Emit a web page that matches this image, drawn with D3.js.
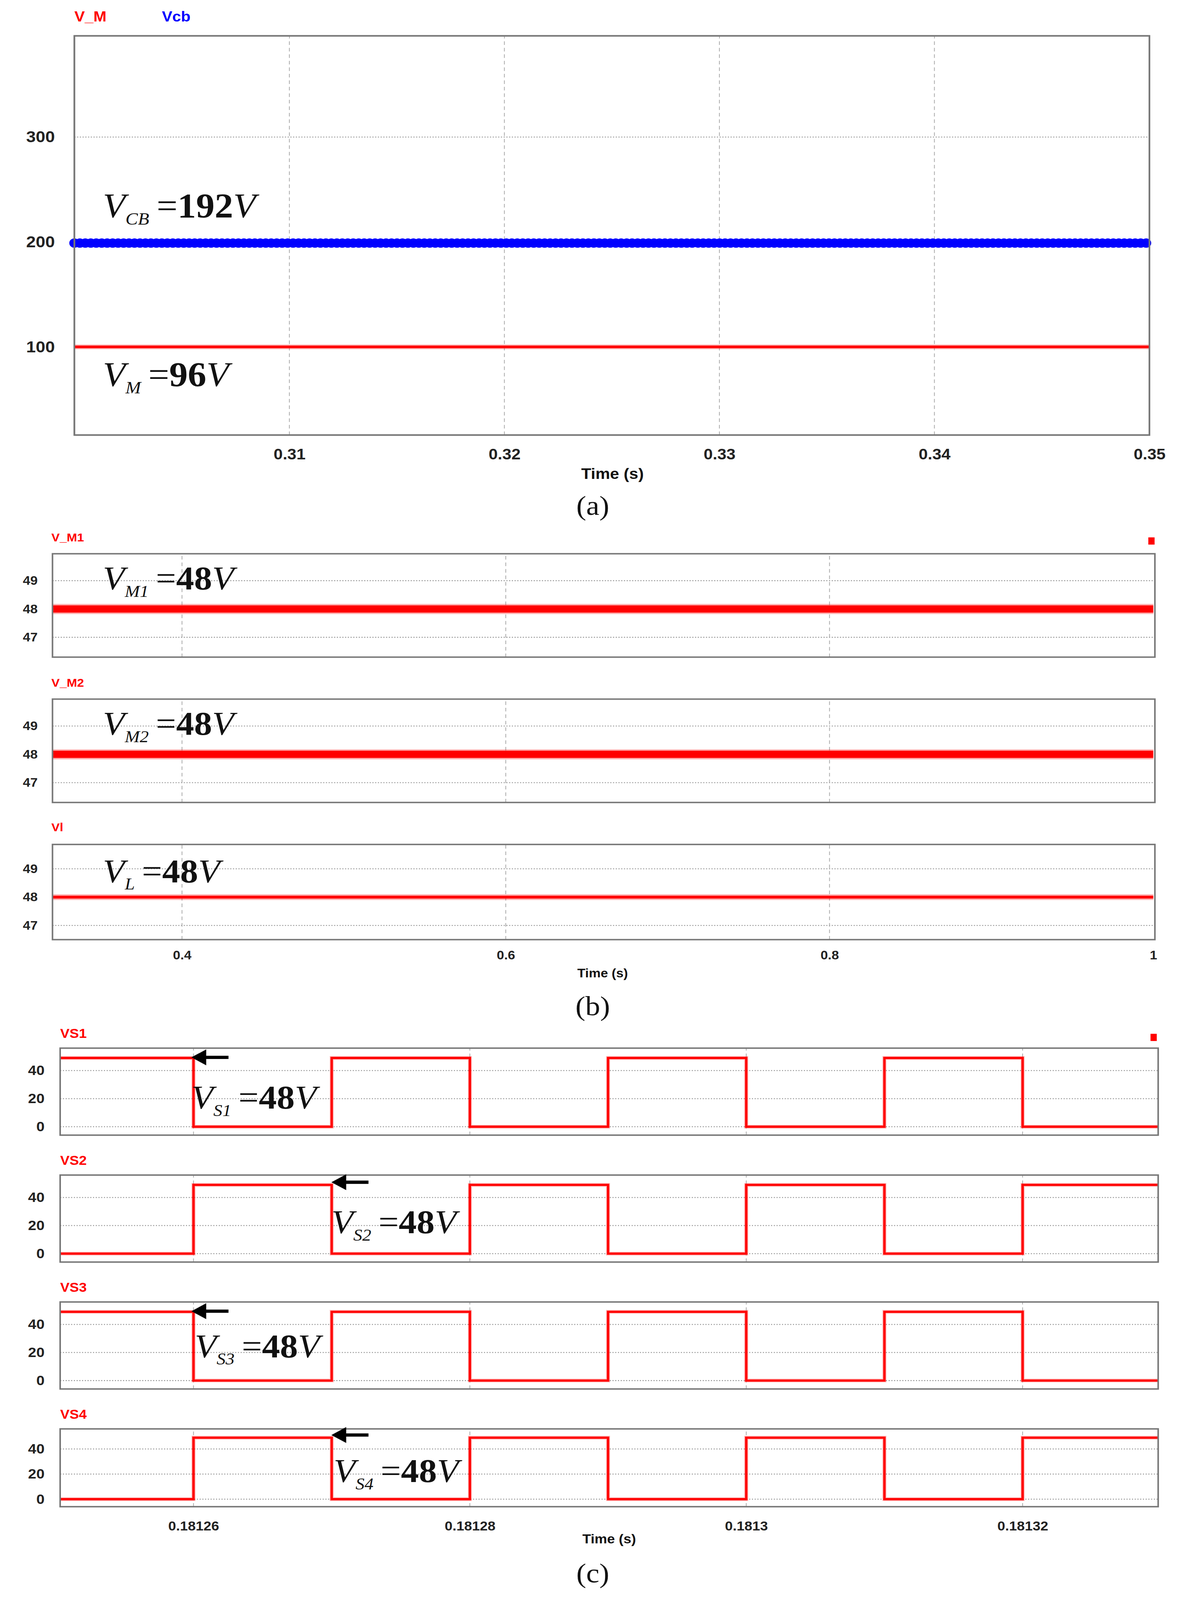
<!DOCTYPE html>
<html><head><meta charset="utf-8">
<script src="https://cdn.jsdelivr.net/npm/d3@7"></script>
<style>html,body{margin:0;padding:0;background:#fff;overflow:hidden}svg{display:block}</style></head>
<body><svg id="c" viewBox="0 0 3039 4430" preserveAspectRatio="none" style="width:100vw;height:100vh"></svg>
<script>
// ---------- data ----------
const aTicks = [0.31, 0.32, 0.33, 0.34, 0.35];
const aYTicks = [100, 200, 300];
const vcbSeries = [[0.3, 199], [0.35, 199]];
const vmSeries = [[0.3, 100], [0.35, 100]];
const bTicks = [0.4, 0.6, 0.8, 1];
const bYTicks = [47, 48, 49];
const vm1Series = [[0.32, 48], [1.0, 48]];
const vm2Series = [[0.32, 48], [1.0, 48]];
const vlSeries = [[0.32, 48], [1.0, 48]];
const cTicks = [0.18126, 0.18128, 0.1813, 0.18132];
const cYTicks = [0, 20, 40];
const switchTimes = [0.18125035, 0.18126, 0.18127, 0.18128, 0.18129, 0.1813, 0.18131, 0.18132, 0.18132981];
const vs1Levels = [49, 0, 49, 0, 49, 0, 49, 0];
const vs2Levels = [0, 49, 0, 49, 0, 49, 0, 49];
const vs3Levels = [49, 0, 49, 0, 49, 0, 49, 0];
const vs4Levels = [0, 49, 0, 49, 0, 49, 0, 49];

const SX = 2.8, SY = 2.834;
const svg = d3.select('#c');
const RED = '#ff0000', BLUE = '#0000ff';
const sans = 'Arial, "Liberation Sans", sans-serif';
const serif = '"Liberation Serif", "Times New Roman", serif';

function stepData(levels) {
  const pts = [];
  levels.forEach((v, i) => { pts.push([switchTimes[i], v]); pts.push([switchTimes[i + 1], v]); });
  return pts;
}

function panel(o) {
  const x = d3.scaleLinear().domain(o.xd).range([o.x0 * SX, o.x1 * SX]);
  const y = d3.scaleLinear().domain(o.yd).range([o.y1 * SY, o.y0 * SY]);
  const g = svg.append('g');
  g.selectAll('.hg').data(o.yTicks).join('line')
    .attr('x1', x.range()[0]).attr('x2', x.range()[1]).attr('y1', d => y(d)).attr('y2', d => y(d))
    .attr('stroke', '#999').attr('stroke-width', 2.5).attr('stroke-dasharray', '3,4');
  g.selectAll('.vg').data(o.xTicks.filter(t => x(t) < x.range()[1] - 10)).join('line')
    .attr('y1', y.range()[0]).attr('y2', y.range()[1]).attr('x1', d => x(d)).attr('x2', d => x(d))
    .attr('stroke', '#aaa').attr('stroke-width', 2).attr('stroke-dasharray', '10,8');
  const ya = g.append('g').attr('transform', `translate(${x.range()[0]},0)`)
    .call(d3.axisLeft(y).tickValues(o.yTicks).tickSize(0).tickPadding(o.ypad || 30).tickFormat(d3.format('d')));
  ya.select('.domain').remove();
  ya.selectAll('text').attr('font-family', sans).attr('font-weight', 'bold')
    .attr('font-size', o.yfs || 40).attr('fill', '#222');
  const line = d3.line().x(d => x(d[0])).y(d => y(d[1]));
  o.series.forEach(s => {
    if (s.halo) g.append('path').attr('d', line(s.data)).attr('fill', 'none')
      .attr('stroke', s.color).attr('stroke-opacity', 0.3).attr('stroke-width', s.halo);
    g.append('path').attr('d', line(s.data)).attr('fill', 'none').attr('stroke', s.color)
      .attr('stroke-width', s.w).attr('stroke-dasharray', s.dash || null)
      .attr('stroke-linecap', s.cap || 'butt');
  });
  g.append('rect').attr('x', x.range()[0]).attr('y', y.range()[1])
    .attr('width', x.range()[1] - x.range()[0]).attr('height', y.range()[0] - y.range()[1])
    .attr('fill', 'none').attr('stroke', '#777').attr('stroke-width', 4);
  if (o.xAxis) {
    const xa = g.append('g').attr('transform', `translate(0,${y.range()[0]})`)
      .call(d3.axisBottom(x).tickValues(o.xTicks).tickSize(0).tickPadding(o.xpad).tickFormat(d => String(d)));
    xa.select('.domain').remove();
    xa.selectAll('text').attr('font-family', sans).attr('font-weight', 'bold')
      .attr('font-size', o.xfs).attr('fill', '#222');
  }
  return { x, y, g };
}

function label(txt, xr, yr, color, fs) {
  svg.append('text').attr('x', xr * SX).attr('y', yr * SY).text(txt)
    .attr('font-family', sans).attr('font-weight', 'bold').attr('font-size', fs).attr('fill', color);
}
function eq(xr, yr, sub, rest, fs) {
  const t = svg.append('text').attr('x', xr * SX).attr('y', yr * SY)
    .attr('font-family', serif).attr('font-size', fs).attr('fill', '#111');
  t.append('tspan').text('V').attr('font-style', 'italic');
  t.append('tspan').text(sub).attr('font-style', 'italic').attr('font-size', fs * 0.5).attr('dy', fs * 0.22);
  t.append('tspan').text('=').attr('dx', fs * 0.2).attr('dy', -fs * 0.22);
  t.append('tspan').text(rest.slice(1, -1)).attr('font-weight', 'bold');
  t.append('tspan').text('V').attr('font-style', 'italic');
}
function center(txt, xr, yr, fs, fam, weight) {
  svg.append('text').attr('x', xr * SX).attr('y', yr * SY).attr('text-anchor', 'middle').text(txt)
    .attr('font-family', fam).attr('font-size', fs).attr('font-weight', weight || 'normal').attr('fill', '#111');
}
function arrow(xr, yr) {
  const x0 = xr * SX, y0 = yr * SY;
  svg.append('line').attr('x1', x0 + 20).attr('x2', x0 + 95).attr('y1', y0).attr('y2', y0)
    .attr('stroke', '#000').attr('stroke-width', 9);
  svg.append('path').attr('d', `M${x0},${y0} L${x0 + 38},${y0 - 22} L${x0 + 38},${y0 + 22} Z`).attr('fill', '#000');
}
function square(xr, yr) {
  svg.append('rect').attr('x', xr * SX).attr('y', yr * SY).attr('width', 16).attr('height', 20).attr('fill', RED);
}

// ---------- (a) ----------
panel({ xd: [0.3, 0.35], yd: [16, 396.5], x0: 68, x1: 1051, y0: 35, y1: 425,
  xTicks: aTicks, yTicks: aYTicks, xAxis: true, xpad: 38, xfs: 42, yfs: 44, ypad: 50,
  series: [
    { data: vcbSeries, color: BLUE, w: 20 },
    { data: vcbSeries, color: BLUE, w: 26, dash: '0,14', cap: 'round' }
  ] });
panel({ xd: [0.3, 0.35], yd: [16, 396.5], x0: 68, x1: 1051, y0: 35, y1: 425,
  xTicks: [], yTicks: [], xAxis: false,
  series: [{ data: vmSeries, color: RED, w: 7, halo: 13 }] });
label('V_M', 68, 21, RED, 40);
label('Vcb', 148, 21, BLUE, 40);
eq(94, 212, 'CB', '=192V', 95);
eq(94, 377, 'M', '=96V', 95);
center('Time (s)', 560, 468, 42, sans, 'bold');
center('(a)', 542, 503, 76, serif);

// ---------- (b) ----------
const bDefs = [
  { y0: 541, y1: 642, s: vm1Series, w: 20, name: 'V_M1', ly: 529, eqy: 576, sub: 'M1' },
  { y0: 683, y1: 784, s: vm2Series, w: 20, name: 'V_M2', ly: 671, eqy: 718, sub: 'M2' },
  { y0: 825, y1: 918, s: vlSeries, w: 8, name: 'Vl', ly: 812, eqy: 862, sub: 'L' }
];
bDefs.forEach((d, i) => {
  const yd = i === 2 ? [46.5, 49.86] : [46.3, 49.95];
  panel({ xd: [0.32, 1.001], yd, x0: 48, x1: 1056, y0: d.y0, y1: d.y1,
    xTicks: bTicks, yTicks: bYTicks, xAxis: i === 2, xpad: 30, xfs: 34, yfs: 34, ypad: 38,
    series: [{ data: d.s, color: RED, w: d.w, halo: d.w + 8 }] });
  label(d.name, 47, d.ly, RED, 32);
  eq(94, d.eqy, d.sub, '=48V', 92);
});
square(1050, 525);
center('Time (s)', 551, 955, 34, sans, 'bold');
center('(b)', 542, 992, 76, serif);

// ---------- (c) ----------
const cDefs = [
  { y0: 1024, y1: 1109, lv: vs1Levels, name: 'VS1', arr: [175, 1033], eqx: 175, eqy: 1083, sub: 'S1' },
  { y0: 1148, y1: 1233, lv: vs2Levels, name: 'VS2', arr: [303, 1155], eqx: 303, eqy: 1205, sub: 'S2' },
  { y0: 1272, y1: 1357, lv: vs3Levels, name: 'VS3', arr: [175, 1281], eqx: 178, eqy: 1326, sub: 'S3' },
  { y0: 1396, y1: 1472, lv: vs4Levels, name: 'VS4', arr: [303, 1402], eqx: 305, eqy: 1448, sub: 'S4' }
];
cDefs.forEach((d, i) => {
  panel({ xd: [0.18125035, 0.18132981], yd: [-6, 56], x0: 55, x1: 1059, y0: d.y0, y1: d.y1,
    xTicks: cTicks, yTicks: cYTicks, xAxis: i === 3, xpad: 40, xfs: 36, yfs: 38, ypad: 40,
    series: [{ data: stepData(d.lv), color: RED, w: 6, halo: 10 }] });
  label(d.name, 55, d.y0 - 10, RED, 36);
  eq(d.eqx, d.eqy, d.sub, '=48V', 92);
  arrow(d.arr[0], d.arr[1]);
});
square(1052, 1010);
center('Time (s)', 557, 1508, 36, sans, 'bold');
center('(c)', 542, 1546, 76, serif);
</script></body></html>
